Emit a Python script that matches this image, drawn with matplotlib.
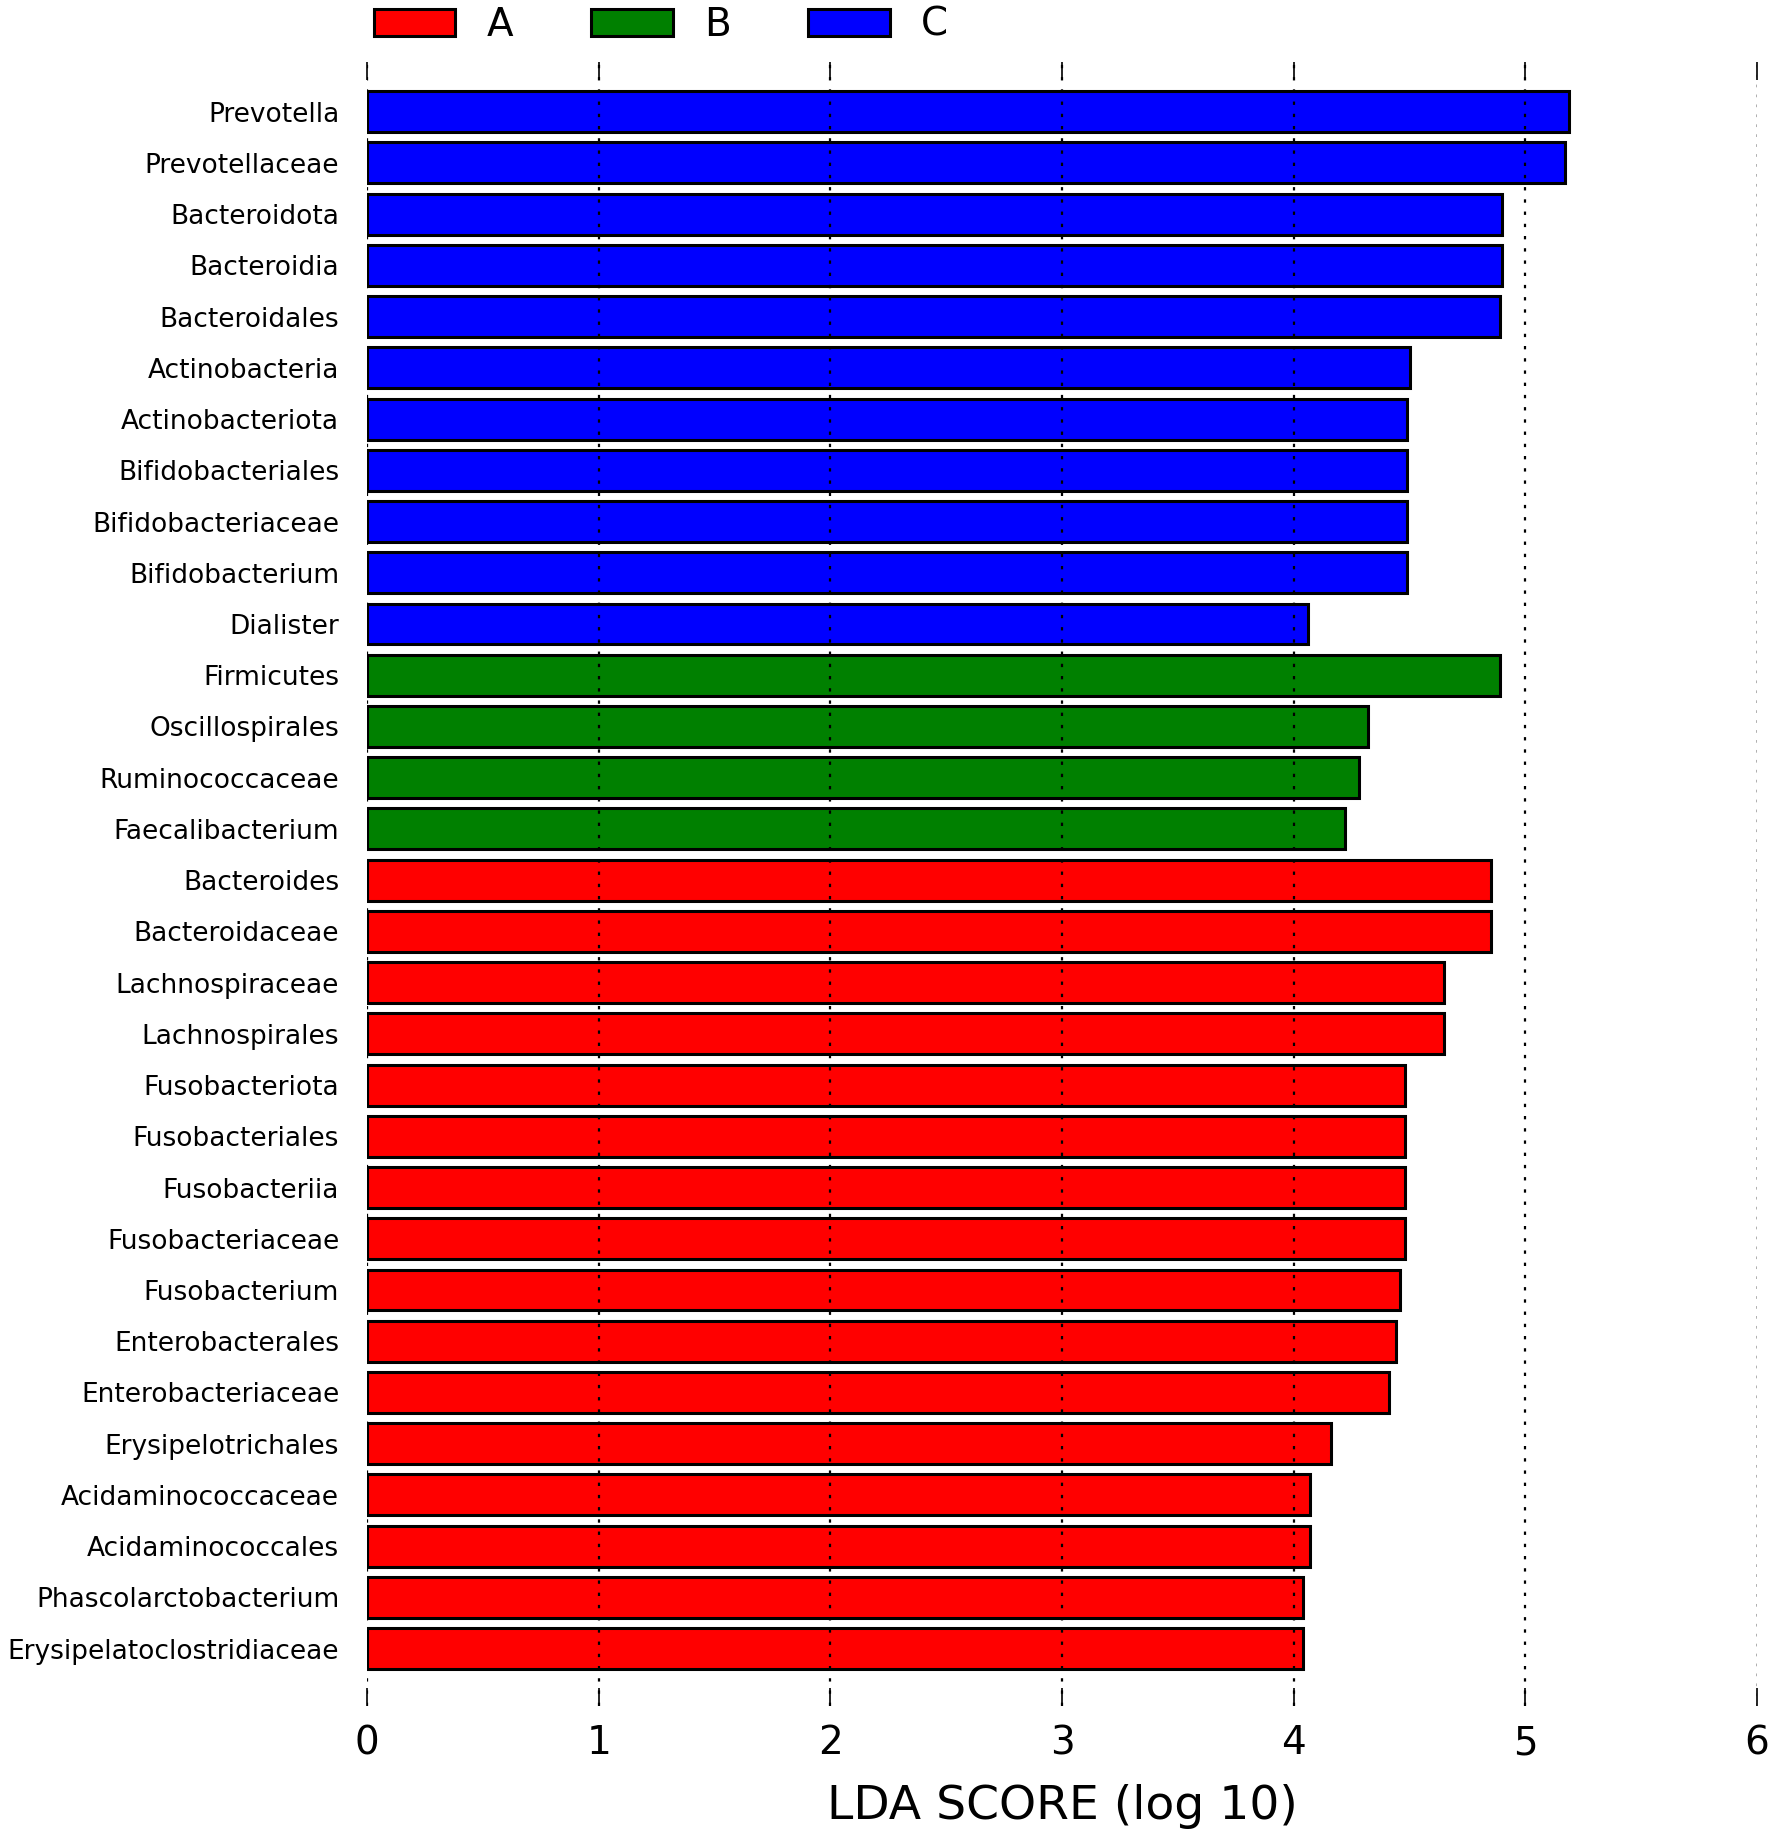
import matplotlib
matplotlib.use("Agg")
import matplotlib.pyplot as plt
from matplotlib.patches import Patch
import numpy as np

taxa = ["Prevotella", "Prevotellaceae", "Bacteroidota", "Bacteroidia", "Bacteroidales",
        "Actinobacteria", "Actinobacteriota", "Bifidobacteriales", "Bifidobacteriaceae",
        "Bifidobacterium", "Dialister", "Firmicutes", "Oscillospirales", "Ruminococcaceae",
        "Faecalibacterium", "Bacteroides", "Bacteroidaceae", "Lachnospiraceae",
        "Lachnospirales", "Fusobacteriota", "Fusobacteriales", "Fusobacteriia",
        "Fusobacteriaceae", "Fusobacterium", "Enterobacterales", "Enterobacteriaceae",
        "Erysipelotrichales", "Acidaminococcaceae", "Acidaminococcales",
        "Phascolarctobacterium", "Erysipelatoclostridiaceae"]
lda = [5.19, 5.17, 4.90, 4.90, 4.89,
       4.50, 4.49, 4.49, 4.49,
       4.49, 4.06, 4.89, 4.32, 4.28,
       4.22, 4.85, 4.85, 4.65,
       4.65, 4.48, 4.48, 4.48,
       4.48, 4.46, 4.44, 4.41,
       4.16, 4.07, 4.07,
       4.04, 4.04]
groups = ["C"] * 11 + ["B"] * 4 + ["A"] * 16
group_names = ["A", "B", "C"]
group_colors = {"A": "#ff0000", "B": "#008000", "C": "#0000ff"}
xticks = [0, 1, 2, 3, 4, 5, 6]

W, H = 1784, 1837
fig = plt.figure(figsize=(W / 100, H / 100), dpi=100)
ax = fig.add_axes([367 / W, 1 - 1706 / H, (1757 - 367) / W, (1706 - 62) / H])

y = np.arange(len(taxa))
ax.barh(y, lda, height=0.8, color=[group_colors[g] for g in groups],
        edgecolor="black", linewidth=2.2, zorder=2)

ax.set_xlim(0, 6)
ax.set_ylim(len(taxa) - 1 + 1.12, -0.97)
ax.set_yticks(y)
ax.set_yticklabels(taxa, fontsize=19)
ax.tick_params(axis="y", length=0, pad=20)
ax.set_xticks(xticks)
ax.set_xticklabels([str(t) for t in xticks], fontsize=28)
ax.tick_params(axis="x", direction="in", length=13, width=1.2, top=True, bottom=True, pad=13)
for s in ax.spines.values():
    s.set_visible(False)
ax.grid(axis="x", linestyle=(0, (1.5, 4)), color="black", linewidth=1.6, zorder=3)
ax.set_axisbelow(False)
ax.get_xgridlines()[-1].set_color("#a8a8a8")
ax.get_xgridlines()[-1].set_linewidth(1.3)
ax.xaxis.get_major_ticks()[-1].tick1line.set_color("#888888")
ax.xaxis.get_major_ticks()[-1].tick2line.set_color("#888888")
ax.set_xlabel("LDA SCORE (log 10)", fontsize=34, labelpad=16)

handles = [Patch(facecolor=group_colors[g], edgecolor="black", linewidth=2.2, label=g)
           for g in group_names]
fig.legend(handles=handles, loc="center", bbox_to_anchor=(661 / W, 1 - 25 / H),
           ncol=3, frameon=False, fontsize=28, handlelength=2.1, handleheight=0.72,
           handletextpad=0.8, columnspacing=2.0, borderpad=0)

fig.savefig("out.png", dpi=100, facecolor="white")
